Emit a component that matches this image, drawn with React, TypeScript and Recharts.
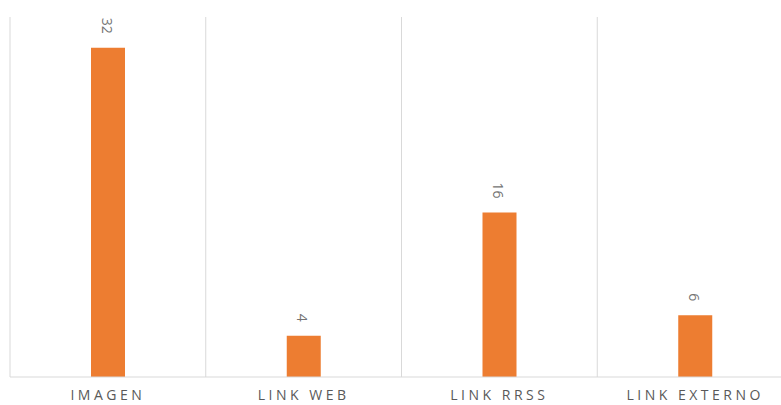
import { BarChart, Bar, XAxis, YAxis, CartesianGrid, LabelList } from 'recharts';

const categories = ['IMAGEN', 'LINK WEB', 'LINK RRSS', 'LINK EXTERNO'];
const counts = [32, 4, 16, 6];

const data = categories.map((name, i) => ({ name, value: counts[i] }));

const ORANGE = '#ED7D31';
const GRID = '#d9d9d9';

// labels in the source read top-to-bottom, so rotate clockwise
function ValueLabel(props: any) {
  const { x, y, width, value } = props;
  const cx = x + width / 2 - 1;
  const cy = y - 14;
  return (
    <text
      x={cx}
      y={cy}
      transform={`rotate(90 ${cx} ${cy})`}
      textAnchor="end"
      dominantBaseline="central"
      fontSize={14}
      fill="#737373"
      fontFamily="'Open Sans', sans-serif"
    >
      {value}
    </text>
  );
}

export default function App() {
  return (
    <div style={{ position: 'absolute', left: 0, top: 0, width: 781, height: 405, overflow: 'hidden', background: '#fff' }}>
      <BarChart
        width={795}
        height={405}
        data={data}
        margin={{ top: 17, right: 2, bottom: 0, left: 10 }}
        barCategoryGap={0}
      >
        <CartesianGrid
          horizontal={false}
          stroke={GRID}
          verticalCoordinatesGenerator={({ offset }: any) =>
            [0, 1, 2, 3, 4].map((i) => offset.left + (i * offset.width) / 4)
          }
        />
        <XAxis
          dataKey="name"
          height={28}
          axisLine={{ stroke: GRID }}
          tickLine={false}
          interval={0}
          tick={{ fill: '#595959', fontSize: 14, fontFamily: "'Open Sans', sans-serif", letterSpacing: 3.5, dy: 5 } as any}
        />
        <YAxis hide domain={[0, 35]} />
        <Bar dataKey="value" fill={ORANGE} barSize={34} isAnimationActive={false}>
          <LabelList dataKey="value" content={<ValueLabel />} />
        </Bar>
      </BarChart>
    </div>
  );
}
